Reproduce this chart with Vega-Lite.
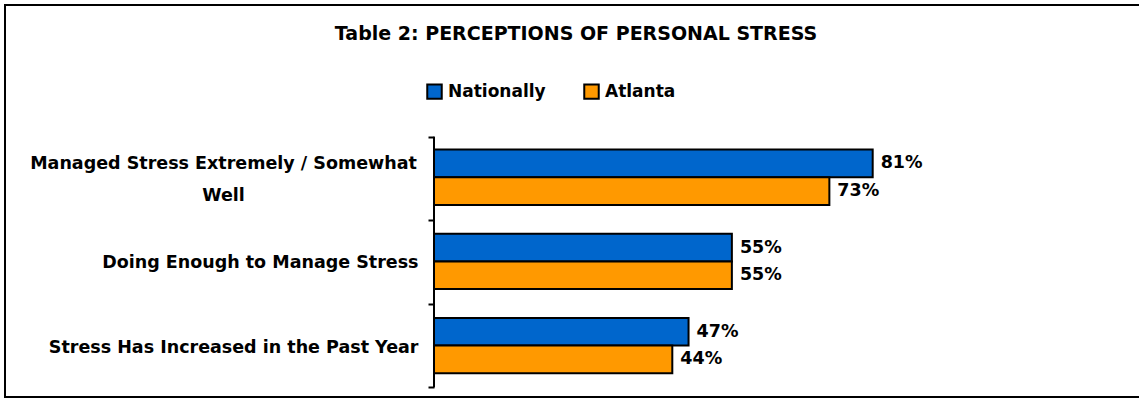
{
  "$schema": "https://vega.github.io/schema/vega-lite/v6.json",
  "width": 1136,
  "height": 392,
  "autosize": "none",
  "padding": {"left": 5, "top": 5, "right": 0, "bottom": 2},
  "background": "white",
  "config": {
    "view": {"stroke": "black", "strokeWidth": 2},
    "font": "DejaVu Sans"
  },
  "title": {
    "text": "Table 2: PERCEPTIONS OF PERSONAL STRESS",
    "font": "DejaVu Sans",
    "fontWeight": "bold",
    "fontSize": 19,
    "color": "black",
    "anchor": "middle",
    "frame": "group",
    "baseline": "alphabetic",
    "offset": -54,
    "dx": 3
  },
  "data": {
    "values": [
      {"item": "Managed Stress Extremely / Somewhat Well", "series": "Nationally", "value": 0.81},
      {"item": "Managed Stress Extremely / Somewhat Well", "series": "Atlanta", "value": 0.73},
      {"item": "Doing Enough to Manage Stress", "series": "Nationally", "value": 0.55},
      {"item": "Doing Enough to Manage Stress", "series": "Atlanta", "value": 0.55},
      {"item": "Stress Has Increased in the Past Year", "series": "Nationally", "value": 0.47},
      {"item": "Stress Has Increased in the Past Year", "series": "Atlanta", "value": 0.44}
    ]
  },
  "layer": [
    {
      "layer": [
        {
          "mark": {"type": "bar", "stroke": "black", "strokeWidth": 2},
          "encoding": {
            "x": {"field": "value", "type": "quantitative", "scale": {"domain": [-0.7921, 1.3054], "nice": false, "zero": false}, "axis": null},
            "y": {
              "field": "item", "type": "nominal",
              "sort": ["Managed Stress Extremely / Somewhat Well", "Doing Enough to Manage Stress", "Stress Has Increased in the Past Year"],
              "scale": {"paddingInner": 0.342, "paddingOuter": 1.017, "align": 0.859},
              "axis": {
                "orient": "left",
                "offset": -429,
                "domain": false,
                "ticks": false,
                "grid": false,
                "title": null,
                "labelFont": "DejaVu Sans",
                "labelFontWeight": "bold",
                "labelFontSize": 17.5,
                "labelColor": "black",
                "labelLimit": 0,
                "labelLineHeight": 32,
                "labelExpr": "datum.label == 'Managed Stress Extremely / Somewhat Well' ? ['Managed Stress Extremely / Somewhat', 'Well'] : datum.label",
                "labelAlign": {"expr": "datum.label == 'Managed Stress Extremely / Somewhat Well' ? 'center' : 'right'"},
                "labelPadding": {"expr": "datum.label == 'Managed Stress Extremely / Somewhat Well' ? 211 : 16"},
                "labelOffset": {"expr": "datum.label == 'Managed Stress Extremely / Somewhat Well' ? -13 : 2"}
              }
            },
            "yOffset": {"field": "series", "type": "nominal", "sort": ["Nationally", "Atlanta"], "scale": {"paddingInner": 0, "paddingOuter": 0}},
            "color": {
              "field": "series", "type": "nominal",
              "scale": {"domain": ["Nationally", "Atlanta"], "range": ["#0066CC", "#FF9900"]},
              "legend": {
                "orient": "none",
                "legendX": 421,
                "legendY": 78,
                "direction": "horizontal",
                "title": null,
                "padding": 0,
                "symbolType": "square",
                "symbolSize": 210,
                "symbolStrokeColor": "black",
                "symbolStrokeWidth": 2,
                "labelFont": "DejaVu Sans",
                "labelFontWeight": "bold",
                "labelFontSize": 17,
                "labelColor": "black",
                "labelOffset": 5,
                "columnPadding": 34
              }
            }
          }
        },
        {
          "mark": {"type": "text", "align": "left", "baseline": "middle", "dx": 8, "font": "DejaVu Sans", "fontWeight": "bold", "fontSize": 17.5, "color": "black"},
          "encoding": {
            "x": {"field": "value", "type": "quantitative", "scale": {"domain": [-0.7921, 1.3054], "nice": false, "zero": false}, "axis": null},
            "y": {"field": "item", "type": "nominal", "sort": ["Managed Stress Extremely / Somewhat Well", "Doing Enough to Manage Stress", "Stress Has Increased in the Past Year"]},
            "yOffset": {"field": "series", "type": "nominal", "sort": ["Nationally", "Atlanta"]},
            "text": {"field": "value", "type": "quantitative", "format": ".0%"}
          }
        }
      ]
    },
    {
      "data": {"values": [{}]},
      "mark": {"type": "rule", "color": "black", "strokeWidth": 2},
      "encoding": {
        "x": {"datum": 0, "type": "quantitative", "scale": {"domain": [-0.7921, 1.3054], "nice": false, "zero": false}, "axis": null},
        "y": {
          "datum": 0, "type": "quantitative",
          "scale": {"domain": [-0.116, 4.577], "nice": false, "zero": false},
          "axis": {
            "orient": "left",
            "offset": -429,
            "values": [0, 1, 2, 3],
            "labels": false,
            "domain": false,
            "grid": false,
            "ticks": true,
            "tickSize": 6,
            "tickWidth": 2,
            "tickColor": "black",
            "title": null
          }
        },
        "y2": {"datum": 3}
      }
    }
  ],
  "resolve": {"scale": {"y": "independent"}, "axis": {"y": "independent"}}
}
